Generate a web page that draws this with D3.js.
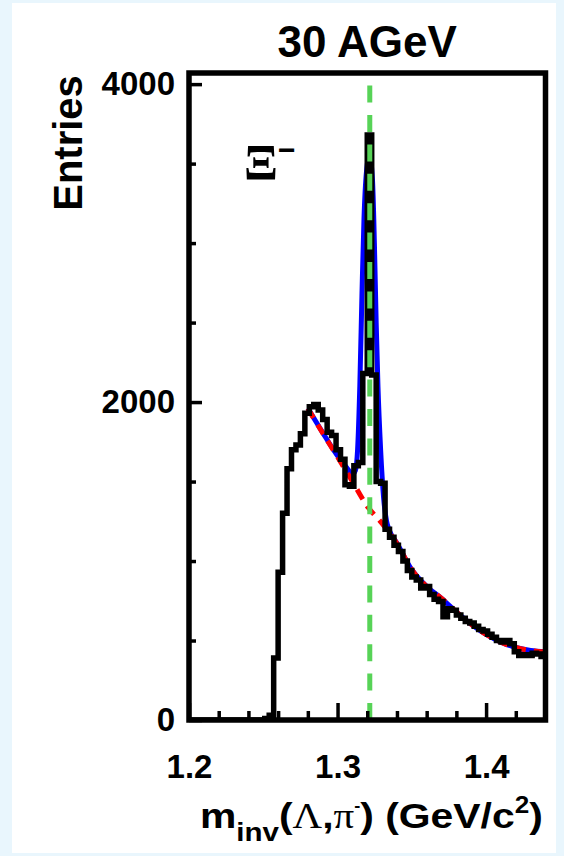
<!DOCTYPE html>
<html><head><meta charset="utf-8">
<script src="https://cdn.jsdelivr.net/npm/d3@7"></script>
<style>
html,body{margin:0;padding:0;background:#e9f6fd;}
svg{display:block;}
text{font-family:"Liberation Sans",Arial,sans-serif;font-weight:bold;fill:#000;}
</style></head>
<body>
<svg id="chart" width="564" height="856"></svg>
<script>
// ---- data ----
const binStart = 1.2;
const binWidth = 0.003;
const counts = [
  0,0,0,0,0,0,0,0,0,0,
  0,0,0,0,0,0,0,10,30,390,
  930,1300,1580,1700,1730,1800,1930,1970,1985,1950,
  1890,1810,1790,1700,1640,1480,1470,1600,1620,2180,
  3680,2170,1500,1490,1200,1150,1100,1060,1000,940,
  900,880,830,840,790,760,745,650,700,690,
  660,640,620,610,590,570,560,540,520,500,
  490,500,480,430,405,410,405,420,415,400
];
const bgMass  = [1.280,1.290,1.300,1.310,1.320,1.330,1.340,1.350,1.360,1.370,1.380,1.390,1.400,1.410,1.420,1.430,1.440];
const bgValue = [1960,1805,1655,1500,1345,1236,1110,945,840,765,680,602,538,490,456,437,428];
const fitMass  = [1.280,1.290,1.300,1.306,1.310,1.312,1.3135,1.315,1.3165,1.3178,1.3195,1.3215,1.3235,1.3248,1.326,1.3272,1.329,1.331,1.333,1.335,1.340,1.350,1.360,1.370,1.380,1.390,1.400,1.410,1.420,1.430,1.440];
const fitValue = [1962,1808,1662,1590,1548,1570,1700,2100,2700,3150,3450,3550,3400,3000,2500,2100,1700,1400,1250,1190,1112,945,840,765,680,602,538,490,456,437,428];
const xiMass = 1.3217;
const yMajorTicks = [0,2000,4000];
const yMinorTicks = [500,1000,1500,2500,3000,3500];
const xMajorTicks = [1.2,1.3,1.4];
const xMinorTicks = [1.22,1.24,1.26,1.28,1.32,1.34,1.36,1.38,1.42];
const title = "30 AGeV";
const yTitle = "Entries";

// ---- layout ----
const svg = d3.select("#chart");
svg.append("rect").attr("x",12).attr("y",3).attr("width",544).attr("height",850).attr("fill","#ffffff");

const x = d3.scaleLinear().domain([1.2,1.44]).range([189,545.5]);
const y = d3.scaleLinear().domain([0,4070]).range([720,73]);

const defs = svg.append("defs");
defs.append("clipPath").attr("id","clip").append("rect")
  .attr("x",x(1.2)).attr("y",y(4070)).attr("width",x(1.44)-x(1.2)).attr("height",y(0)-y(4070));

const plot = svg.append("g").attr("clip-path","url(#clip)");

// fit (signal + background)
const fitPts = fitMass.map((m,i)=>[m,fitValue[i]]);
plot.append("path").datum(fitPts)
  .attr("fill","none").attr("stroke","#0000ff").attr("stroke-width",5)
  .attr("d", d3.line().x(d=>x(d[0])).y(d=>y(d[1])).curve(d3.curveMonotoneX));

// background
const bgPts = bgMass.map((m,i)=>[m,bgValue[i]]);
plot.append("path").datum(bgPts)
  .attr("fill","none").attr("stroke","#ff0000").attr("stroke-width",5)
  .attr("stroke-dasharray","11,8")
  .attr("d", d3.line().x(d=>x(d[0])).y(d=>y(d[1])).curve(d3.curveMonotoneX));

// histogram
const histPts = counts.map((c,i)=>[binStart+i*binWidth,c]);
histPts.push([binStart+counts.length*binWidth, counts[counts.length-1]]);
plot.append("path").datum(histPts)
  .attr("fill","none").attr("stroke","#000").attr("stroke-width",5.5)
  .attr("stroke-linejoin","miter")
  .attr("d", d3.line().x(d=>x(d[0])).y(d=>y(d[1])).curve(d3.curveStepAfter));

// green Xi mass line
svg.append("line")
  .attr("x1",x(xiMass)).attr("x2",x(xiMass))
  .attr("y1",y(0)).attr("y2",y(4070))
  .attr("stroke","#57d357").attr("stroke-width",5)
  .attr("stroke-dasharray","17,12.4");

// axes: ticks inside
const yMaj = d3.axisLeft(y).tickValues(yMajorTicks).tickSize(-13).tickPadding(14).tickFormat(d3.format("d"));
const yMin = d3.axisLeft(y).tickValues(yMinorTicks).tickSize(-7).tickFormat("");
const xMaj = d3.axisBottom(x).tickValues(xMajorTicks).tickSize(-17).tickPadding(35).tickFormat(d3.format(".1f"));
const xMin = d3.axisBottom(x).tickValues(xMinorTicks).tickSize(-9).tickFormat("");

function styleAxis(g){
  g.select(".domain").remove();
  g.selectAll(".tick line").attr("stroke","#000").attr("stroke-width",3.5);
  g.selectAll(".tick text").attr("font-size",33).attr("font-family","'Liberation Sans',Arial,sans-serif").attr("font-weight","bold").attr("fill","#000");
}
svg.append("g").attr("transform",`translate(${x(1.2)},0)`).call(yMaj).call(styleAxis);
svg.append("g").attr("transform",`translate(${x(1.2)},0)`).call(yMin).call(styleAxis);
svg.append("g").attr("transform",`translate(0,${y(0)})`).call(xMaj).call(styleAxis);
svg.append("g").attr("transform",`translate(0,${y(0)})`).call(xMin).call(styleAxis);

// frame
svg.append("rect").attr("x",x(1.2)).attr("y",y(4070)).attr("width",x(1.44)-x(1.2)).attr("height",y(0)-y(4070))
  .attr("fill","none").attr("stroke","#000").attr("stroke-width",5.5);

// title
svg.append("text").attr("x",(x(1.2)+x(1.44))/2).attr("y",57).attr("text-anchor","middle")
  .attr("font-size",44).text(title);

// y title
svg.append("text").attr("transform","translate(82,143) rotate(-90)").attr("text-anchor","middle")
  .attr("font-size",40).text(yTitle);

// Xi label
svg.append("text").attr("x",244).attr("y",179).attr("font-size",50)
  .style("font-family","'Liberation Serif','Times New Roman',serif").text("Ξ");
svg.append("text").attr("x",278).attr("y",160).attr("font-size",30).attr("font-weight","normal").text("−");

// x title (stretched horizontally to span the reference width)
const xtG = svg.append("g");
const xt = xtG.append("text").attr("x",0).attr("y",0).attr("font-size",36);
xt.append("tspan").text("m");
xt.append("tspan").attr("dy",13).attr("font-size",26).text("inv");
xt.append("tspan").attr("dy",-13).text("(");
xt.append("tspan").style("font-family","'Liberation Serif','Times New Roman',serif").attr("font-weight","normal").text("Λ");
xt.append("tspan").text(",");
xt.append("tspan").style("font-family","'Liberation Serif','Times New Roman',serif").attr("font-weight","normal").text("π");
xt.append("tspan").attr("dy",-17).attr("font-size",16).text("-");
xt.append("tspan").attr("dy",17).text(") (GeV/c");
xt.append("tspan").attr("dy",-15).attr("font-size",23).text("2");
xt.append("tspan").attr("dy",15).text(")");
const bb = xt.node().getBBox();
const sx = 343 / bb.width;
xtG.attr("transform",`translate(${200 - bb.x*sx},828) scale(${sx},1)`);
</script>
</body></html>
